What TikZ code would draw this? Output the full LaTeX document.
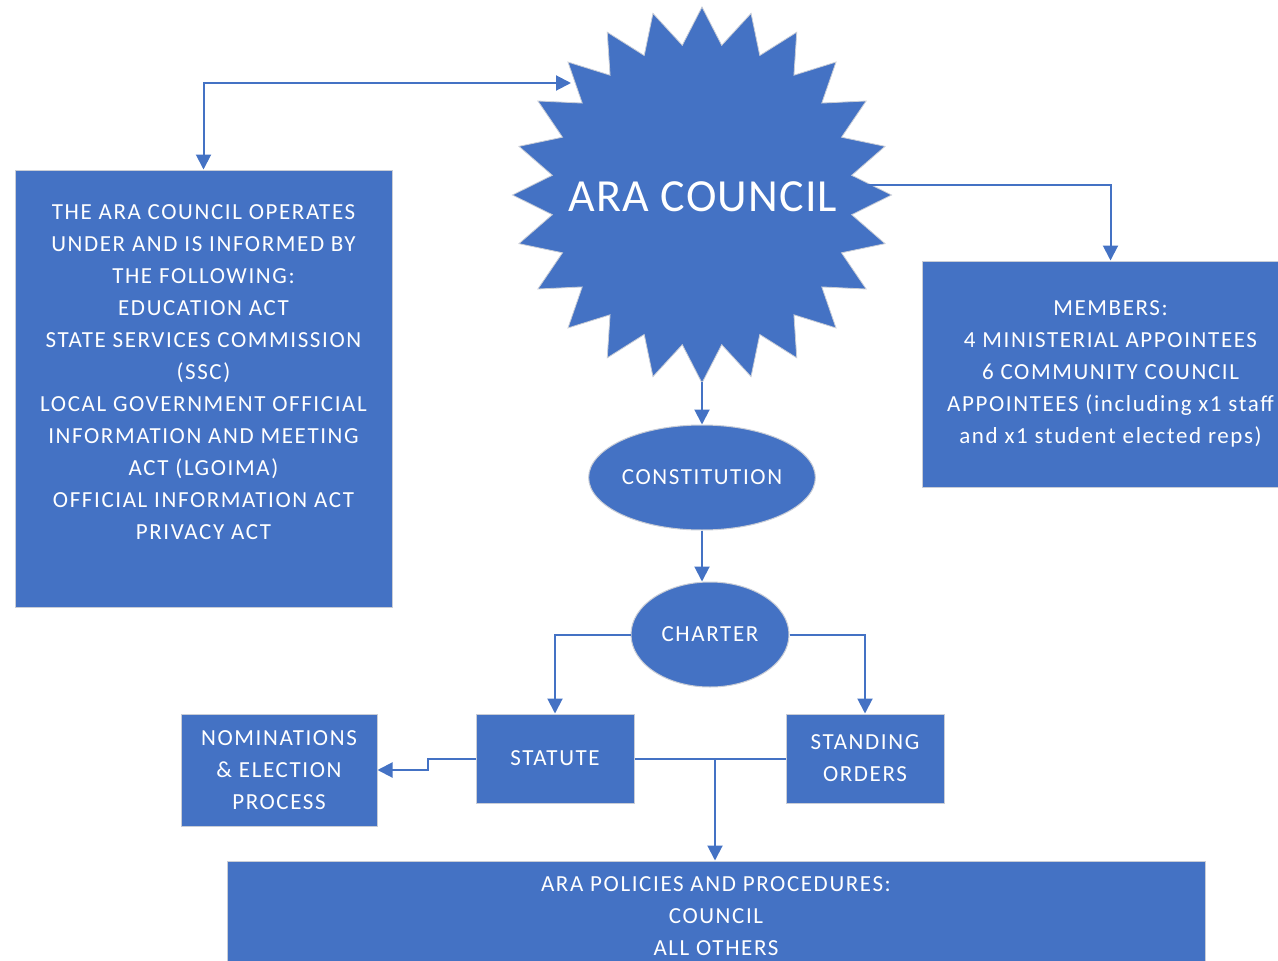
\documentclass[tikz,border=0pt]{standalone}
\usepackage{fontspec}
\setmainfont{Carlito}
\newfontfamily\bodyfont[LetterSpace=7]{Carlito}
\newfontfamily\titlefont[LetterSpace=2.5]{Carlito}
\usetikzlibrary{shapes.geometric,arrows.meta}
\definecolor{ablue}{HTML}{4472C4}
\definecolor{aedge}{HTML}{C9CDD6}
\begin{document}
\begin{tikzpicture}[x=1pt,y=-1pt,
  box/.style={rectangle, fill=ablue, draw=aedge, line width=1pt, text=white, align=center, inner sep=0pt, font=\bodyfont\fontsize{23}{32}\selectfont},
  oval/.style={ellipse, fill=ablue, draw=aedge, line width=1pt, text=white, align=center, inner sep=0pt, font=\bodyfont\fontsize{23}{32}\selectfont},
  conn/.style={draw=ablue, line width=2pt},
  arr/.style={conn, -{Triangle[width=15pt,length=15pt]}},
  darr/.style={conn, {Triangle[width=15pt,length=15pt]}-{Triangle[width=15pt,length=15pt]}}]
\useasboundingbox (0,0) rectangle (1278,961);
\fill[white] (0,0) rectangle (1278,961);

% 24-point starburst
\filldraw[fill=ablue, draw=aedge, line width=0.8pt]
  plot[samples at={0,...,47}] ({702+ifthenelse(mod(\x,2)==0,189.5,151)*cos(90+7.5*\x)}, {195-ifthenelse(mod(\x,2)==0,188,151)*sin(90+7.5*\x)}) -- cycle;
\node[text=white, inner sep=0pt, font=\titlefont\fontsize{46}{50}\selectfont] (council) at (703,197) {ARA COUNCIL};

\node[box, minimum width=377pt, minimum height=437pt] (acts) at (203.5,388.5) {THE ARA COUNCIL OPERATES\\UNDER AND IS INFORMED BY\\THE FOLLOWING:\\EDUCATION ACT\\STATE SERVICES COMMISSION\\(SSC)\\LOCAL GOVERNMENT OFFICIAL\\INFORMATION AND MEETING\\ACT (LGOIMA)\\OFFICIAL INFORMATION ACT\\PRIVACY ACT\\~};

\node[box, minimum width=377pt, minimum height=226pt] (members) at (1110.5,374) {MEMBERS:\\4 MINISTERIAL APPOINTEES\\6 COMMUNITY COUNCIL\\APPOINTEES (including x1 staff\\and x1 student elected reps)};

\node[oval, minimum width=226pt, minimum height=105pt] (constitution) at (702,477.5) {CONSTITUTION};
\node[oval, minimum width=158pt, minimum height=105pt] (charter) at (710,634.5) {CHARTER};

\node[box, minimum width=158pt, minimum height=89pt] (statute) at (555,758.5) {STATUTE};
\node[box, minimum width=158pt, minimum height=89pt] (standing) at (865,758.5) {STANDING\\ORDERS};
\node[box, minimum width=196pt, minimum height=112pt] (nominations) at (279,770) {NOMINATIONS\\\& ELECTION\\PROCESS};
\node[box, minimum width=978pt, minimum height=110pt] (policies) at (716,916) {ARA POLICIES AND PROCEDURES:\\COUNCIL\\ALL OTHERS};

\coordinate (councilL) at (571,83);
\coordinate (councilR) at (867,185);
\coordinate (councilB) at (702,382);
\coordinate (junction) at (715,759);

\draw[darr] (acts.north) |- (councilL);
\draw[arr] (councilR) -| (members.north);
\draw[arr] (councilB) -- (constitution.north);
\draw[arr] (constitution.south) -- (constitution.south |- charter.north);
\draw[arr] (charter.west) -| (statute.north);
\draw[arr] (charter.east) -| (standing.north);
\draw[arr] (statute.west) -- ++(-48,0) |- (nominations.east);
\draw[conn] (statute.east) -- (standing.west);
\draw[arr] (junction) -- (junction |- policies.north);
\end{tikzpicture}
\end{document}
